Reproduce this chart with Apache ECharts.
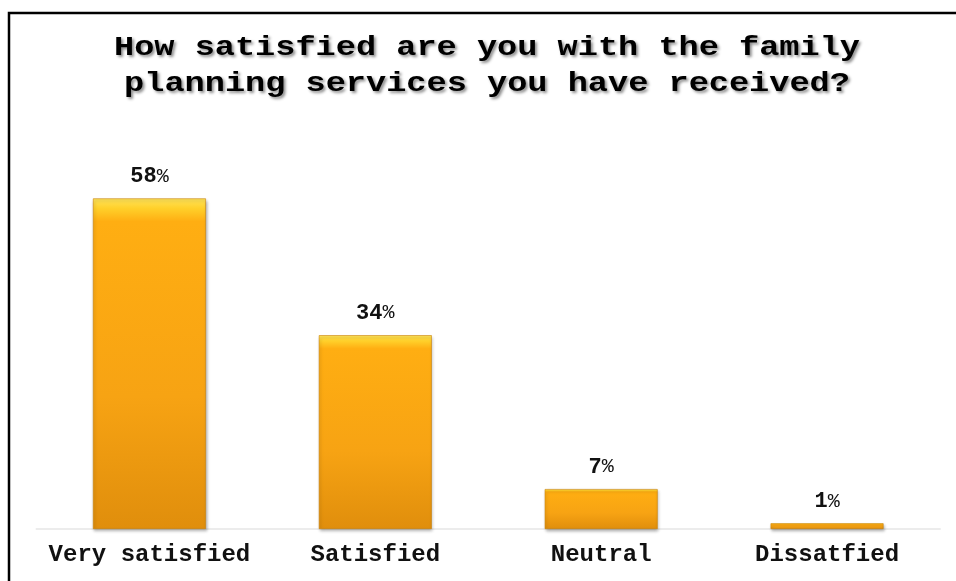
<!DOCTYPE html>
<html>
<head>
<meta charset="utf-8">
<script src="https://cdn.jsdelivr.net/npm/echarts@6/dist/echarts.min.js"></script>
<style>
  html, body { margin: 0; padding: 0; background: #fff; }
  #chart { width: 956px; height: 581px; }
</style>
</head>
<body>
<div id="chart"></div>
<script>
// data
const categories = ['Very satisfied', 'Satisfied', 'Neutral', 'Dissatfied']
const percents = [58, 34, 7, 1]
const titleLines = [
  'How satisfied are you with the family',
  'planning services you have received?'
]

const monoFont = '"Liberation Mono", "Courier New", monospace'

const chart = echarts.init(document.getElementById('chart'))

// bar fill: yellow bevel on top, orange body
const barColor = new echarts.graphic.LinearGradient(0, 0, 0, 1, [
  { offset: 0, color: '#FFE45A' },
  { offset: 0.03, color: '#FFD02A' },
  { offset: 0.07, color: '#FFAE12' },
  { offset: 0.6, color: '#F7A313' },
  { offset: 1, color: '#E08E0C' }
])

const titleGraphics = titleLines.map((line, i) => ({
  type: 'text',
  x: 487,
  y: 48 + i * 36,
  scaleX: 1.2,
  style: {
    text: line,
    font: 'bold 28px ' + monoFont,
    fill: '#000',
    align: 'center',
    verticalAlign: 'middle',
    textShadowColor: 'rgba(0,0,0,0.45)',
    textShadowBlur: 3,
    textShadowOffsetX: 2,
    textShadowOffsetY: 2
  }
}))

const option = {
  backgroundColor: '#fff',
  animation: false,
  grid: { left: 36.5, right: 16, top: 130, bottom: 52 },
  xAxis: {
    type: 'category',
    data: categories,
    axisTick: { show: false },
    axisLine: { lineStyle: { color: '#ececec', width: 2 } },
    axisLabel: {
      interval: 0,
      hideOverlap: false,
      margin: 14,
      fontFamily: monoFont,
      fontWeight: 'bold',
      fontSize: 24,
      color: '#111'
    }
  },
  yAxis: {
    type: 'value',
    min: 0,
    max: 70,
    show: false,
    splitLine: { show: false }
  },
  graphic: [
    {
      type: 'rect',
      shape: { x: 9, y: 13, width: 960, height: 600 },
      style: { fill: null, stroke: '#000', lineWidth: 2.5 },
      z: 100
    },
    ...titleGraphics
  ],
  series: [
    {
      type: 'bar',
      data: percents,
      barWidth: '50%',
      itemStyle: {
        color: barColor,
        borderColor: '#C98208',
        borderWidth: 0.6,
        shadowColor: 'rgba(0,0,0,0.3)',
        shadowBlur: 3,
        shadowOffsetX: 1,
        shadowOffsetY: 2
      },
      label: {
        show: true,
        position: 'top',
        distance: 11,
        formatter: p => '{n|' + p.value + '}{p|%}',
        rich: {
          n: { fontFamily: monoFont, fontWeight: 'bold', fontSize: 22, color: '#111' },
          p: { fontFamily: monoFont, fontSize: 20, color: '#111' }
        }
      }
    }
  ]
}

chart.setOption(option)
</script>
</body>
</html>
